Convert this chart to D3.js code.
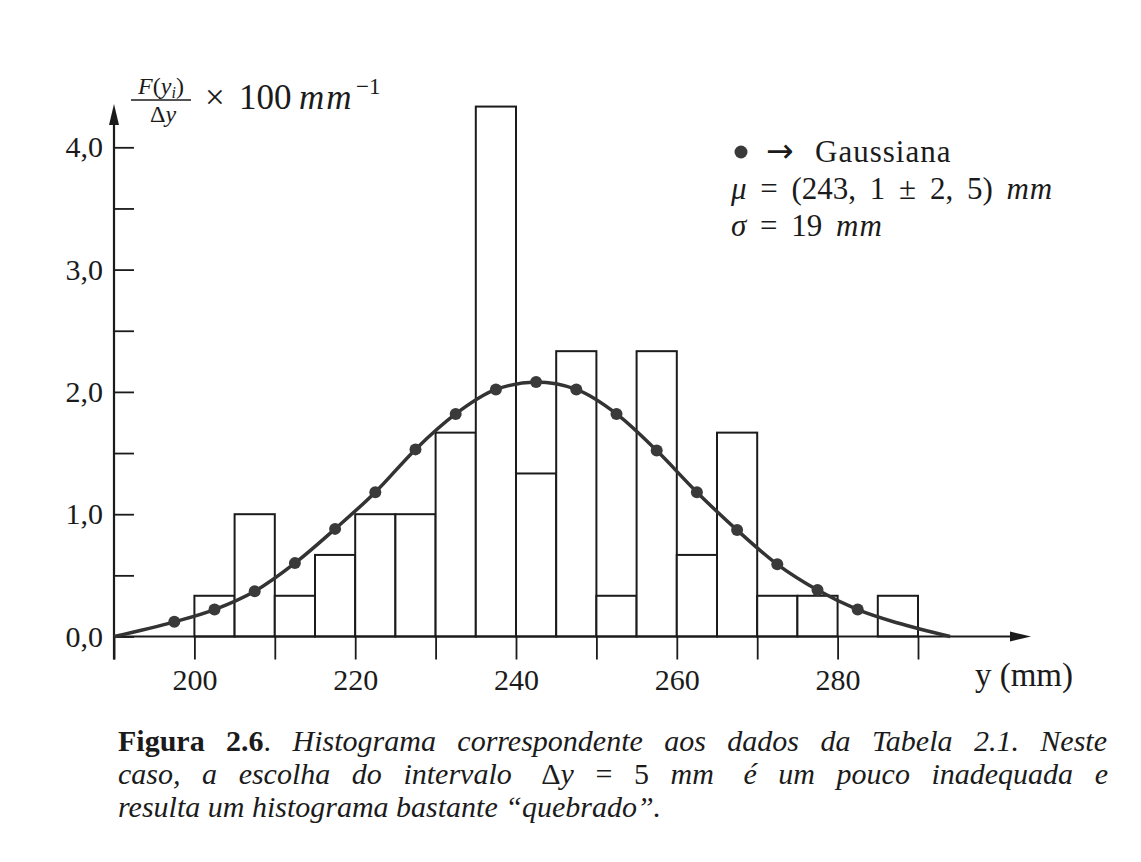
<!DOCTYPE html>
<html>
<head>
<meta charset="utf-8">
<script src="https://cdnjs.cloudflare.com/ajax/libs/d3/7.8.5/d3.min.js"></script>
<style>
  body { margin: 0; background: #fff; }
  svg { display: block; }
  text { font-family: "Liberation Serif", "DejaVu Serif", serif; fill: #1b1b1b; }
</style>
</head>
<body>
<script>
// histogram: left edge of each 5 mm bin and F(y_i)/Δy x 100 (mm^-1)
var binStart = [200, 205, 210, 215, 220, 225, 230, 235, 240, 245, 250, 255, 260, 265, 270, 275, 280, 285];
var binHeight = [0.333, 1.0, 0.333, 0.667, 1.0, 1.0, 1.667, 4.333, 1.333, 2.333, 0.333, 2.333, 0.667, 1.667, 0.333, 0.333, 0, 0.333];
var binWidth = 5;

// gaussian points (dots)
var gaussX = [197.5, 202.5, 207.5, 212.5, 217.5, 222.5, 227.5, 232.5, 237.5, 242.5, 247.5, 252.5, 257.5, 262.5, 267.5, 272.5, 277.5, 282.5];
var gaussY = [0.12, 0.22, 0.37, 0.60, 0.88, 1.18, 1.53, 1.82, 2.02, 2.08, 2.02, 1.82, 1.52, 1.18, 0.87, 0.59, 0.38, 0.22];
// ends of the drawn curve
var tailLeft = [[190, 0.0]];
var tailRight = [[287.5, 0.11], [294, 0.0]];

var xTicks = [190, 200, 210, 220, 230, 240, 250, 260, 270, 280, 290];
var xLabels = [200, 220, 240, 260, 280];
var yTicks = [0, 0.5, 1, 1.5, 2, 2.5, 3, 3.5, 4];
var yLabels = [0, 1, 2, 3, 4];

var W = 1141, H = 862;
var svg = d3.select("body").append("svg")
  .attr("width", W)
  .attr("height", H);

var x = d3.scaleLinear().domain([190, 290]).range([114, 918]);
var y = d3.scaleLinear().domain([0, 4]).range([636.5, 147.3]);
var ink = "#1b1b1b";

// bars
svg.append("g").selectAll("rect")
  .data(binStart.map(function(s, i) { return {s: s, h: binHeight[i]}; }).filter(function(d) { return d.h > 0; }))
  .enter().append("rect")
  .attr("x", function(d) { return x(d.s); })
  .attr("width", function(d) { return x(d.s + binWidth) - x(d.s); })
  .attr("y", function(d) { return y(d.h); })
  .attr("height", function(d) { return y(0) - y(d.h); })
  .attr("fill", "#fff")
  .attr("stroke", ink)
  .attr("stroke-width", 2);

// x axis
var fmtY = function(d) { return d3.format(".1f")(d).replace(".", ","); };
var xAxis = svg.append("g")
  .attr("transform", "translate(0," + y(0) + ")")
  .call(d3.axisBottom(x).tickValues(xTicks).tickSize(23).tickPadding(9)
    .tickFormat(function(d) { return xLabels.indexOf(d) >= 0 ? d : ""; }));
xAxis.select(".domain").remove();
xAxis.selectAll("line").attr("stroke", ink).attr("stroke-width", 1.8);
xAxis.selectAll("text").attr("font-size", 30).attr("font-family", null).attr("fill", ink);

// y axis
var yAxis = svg.append("g")
  .attr("transform", "translate(" + x(190) + ",0)")
  .call(d3.axisLeft(y).tickValues(yTicks).tickSizeInner(-20).tickSizeOuter(0).tickPadding(11)
    .tickFormat(function(d) { return yLabels.indexOf(d) >= 0 ? fmtY(d) : ""; }));
yAxis.select(".domain").remove();
yAxis.selectAll("line").attr("stroke", ink).attr("stroke-width", 1.8);
yAxis.selectAll("text").attr("font-size", 30).attr("font-family", null).attr("fill", ink);

// axis lines with arrows
svg.append("line")
  .attr("x1", x(190)).attr("y1", y(0)).attr("x2", 1020).attr("y2", y(0))
  .attr("stroke", ink).attr("stroke-width", 2.2);
svg.append("path")
  .attr("d", "M1031," + y(0) + " L1010," + (y(0) - 5) + " L1010," + (y(0) + 5) + " Z")
  .attr("fill", ink);
svg.append("line")
  .attr("x1", x(190)).attr("y1", y(0) + 23).attr("x2", x(190)).attr("y2", 118)
  .attr("stroke", ink).attr("stroke-width", 2.2);
svg.append("path")
  .attr("d", "M" + x(190) + ",104 L" + (x(190) - 5) + ",125 L" + (x(190) + 5) + ",125 Z")
  .attr("fill", ink);

// gaussian curve and dots
var pts = tailLeft.concat(gaussX.map(function(v, i) { return [v, gaussY[i]]; }), tailRight);
var line = d3.line()
  .x(function(d) { return x(d[0]); })
  .y(function(d) { return y(d[1]); })
  .curve(d3.curveMonotoneX);
svg.append("path")
  .attr("d", line(pts))
  .attr("fill", "none")
  .attr("stroke", "#333")
  .attr("stroke-width", 3.5);
svg.append("g").selectAll("circle")
  .data(gaussX)
  .enter().append("circle")
  .attr("cx", function(d) { return x(d); })
  .attr("cy", function(d, i) { return y(gaussY[i]); })
  .attr("r", 6)
  .attr("fill", "#3a3a3a");

// y axis title: F(y_i)/Δy x 100 mm^-1
var yt = svg.append("g").attr("font-size", 24);
yt.append("text").attr("x", 161).attr("y", 94).attr("text-anchor", "middle")
  .html('<tspan font-style="italic">F</tspan>(<tspan font-style="italic">y</tspan><tspan font-size="16" dy="4" font-style="italic">i</tspan><tspan dy="-4">)</tspan>');
yt.append("line").attr("x1", 131).attr("x2", 191).attr("y1", 100).attr("y2", 100)
  .attr("stroke", ink).attr("stroke-width", 1.4);
yt.append("text").attr("x", 163).attr("y", 122).attr("text-anchor", "middle")
  .html('Δ<tspan font-style="italic">y</tspan>');
var yt2 = svg.append("g").attr("font-size", 35);
yt2.append("text").attr("x", 205).attr("y", 109).text("×");
yt2.append("text").attr("x", 239).attr("y", 109).text("100");
yt2.append("text").attr("x", 299).attr("y", 109).attr("font-style", "italic")
  .style("letter-spacing", "2px").text("mm");
yt2.append("text").attr("x", 356).attr("y", 94).attr("font-size", 23).text("−1");

svg.append("text").attr("x", 1073).attr("y", 686).attr("font-size", 33)
  .attr("text-anchor", "end").text("y (mm)");

// legend
var lg = svg.append("g").attr("font-size", 31);
lg.append("circle").attr("cx", 741).attr("cy", 152).attr("r", 6.5).attr("fill", "#3a3a3a");
lg.append("text").attr("x", 766).attr("y", 162).style("font-family", "DejaVu Sans")
  .attr("font-size", 33).text("→");
lg.append("text").attr("x", 815).attr("y", 162).style("letter-spacing", "1px").text("Gaussiana");
lg.append("text").attr("x", 731).attr("y", 199).attr("word-spacing", 6)
  .html('<tspan font-style="italic">μ</tspan> = (243, 1 ± 2, 5) <tspan font-style="italic" style="letter-spacing:1px">mm</tspan>');
lg.append("text").attr("x", 731).attr("y", 236).attr("word-spacing", 6)
  .html('<tspan font-style="italic">σ</tspan> = 19 <tspan font-style="italic" style="letter-spacing:1px">mm</tspan>');

// caption, first two lines justified with word spacing
var cap = svg.append("g").attr("font-size", 30);
var justify = function(t, width) {
  var n = t.node();
  var spaces = (n.textContent.match(/ /g) || []).length;
  var extra = (width - n.getComputedTextLength()) / spaces;
  t.attr("word-spacing", extra);
};
var c1 = cap.append("text").attr("x", 118).attr("y", 751)
  .html('<tspan font-weight="bold">Figura 2.6</tspan>. <tspan font-style="italic">Histograma correspondente aos dados da Tabela 2.1. Neste</tspan>');
justify(c1, 989);
var c2 = cap.append("text").attr("x", 118).attr("y", 784)
  .html('<tspan font-style="italic">caso, a escolha do intervalo</tspan> <tspan dx="8">Δ</tspan><tspan font-style="italic">y</tspan> = 5 <tspan font-style="italic">mm</tspan> <tspan dx="8" font-style="italic">é um pouco inadequada e</tspan>');
justify(c2, 990 - 16);
cap.append("text").attr("x", 118).attr("y", 817)
  .attr("font-style", "italic")
  .text('resulta um histograma bastante “quebrado”.');
</script>
</body>
</html>
